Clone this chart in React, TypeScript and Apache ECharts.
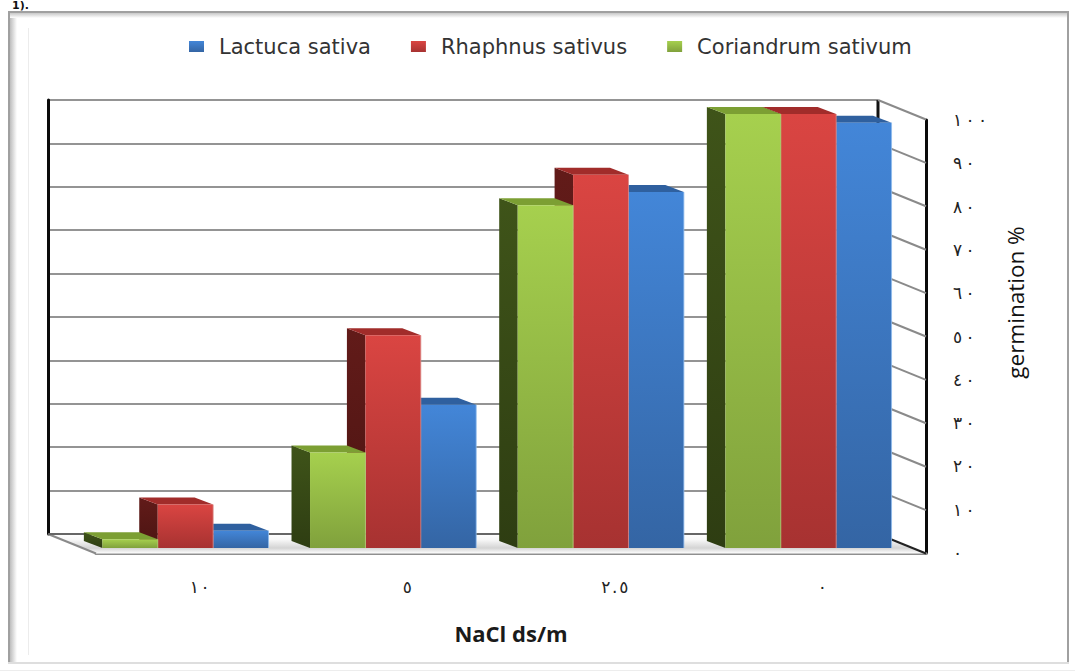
import React, { useEffect, useRef } from "react";
import * as echarts from "echarts";

const categories = ["١٠", "٥", "٢.٥", "٠"];
const lactuca = [4, 33, 82, 98];
const rhaphnus = [10, 49, 86, 100];
const coriandrum = [2, 22, 79, 100];
const yTicks = [0, 10, 20, 30, 40, 50, 60, 70, 80, 90, 100];
const yTickLabels = ["٠", "١٠", "٢٠", "٣٠", "٤٠", "٥٠", "٦٠", "٧٠", "٨٠", "٩٠", "١٠٠"];
const names = ["Lactuca sativa", "Rhaphnus sativus", "Coriandrum sativum"];

const BAR_FRAC = 55.4 / 207.7;
const DX = 18.5;
const DY = 7;
const vgrad = (a: string, b: string) =>
  new echarts.graphic.LinearGradient(0, 0, 0, 1, [
    { offset: 0, color: a },
    { offset: 1, color: b },
  ]);

const looks = [
  { front: ["#4386d8", "#3465a4"], side: ["#234a7a", "#1c3c64"], top: "#2f609f", edge: "#8fbbec", slot: 1 },
  { front: ["#da4542", "#a73231"], side: ["#621b19", "#4b1412"], top: "#a12c2a", edge: "#d98a88", slot: 0 },
  { front: ["#a6d04e", "#80a13c"], side: ["#3f5419", "#2e3d12"], top: "#7c9f33", edge: "#b5d47a", slot: -1 },
];

function barRenderer(look: (typeof looks)[number]) {
  return (_params: any, api: any) => {
    const band = api.size([1, 0])[0];
    const w = band * BAR_FRAC;
    const base = api.coord([api.value(0), 0]);
    const head = api.coord([api.value(0), api.value(1)]);
    const x0 = base[0] + (look.slot - 0.5) * w;
    const x1 = x0 + w;
    const y = head[1];
    const b = base[1];
    return {
      type: "group",
      children: [
        {
          type: "polygon",
          shape: { points: [[x0, y], [x0 - DX, y - DY], [x0 - DX, b - DY], [x0, b]] },
          style: { fill: vgrad(look.side[0], look.side[1]) },
        },
        {
          type: "polygon",
          shape: { points: [[x0, y], [x1, y], [x1 - DX, y - DY], [x0 - DX, y - DY]] },
          style: { fill: look.top },
        },
        {
          type: "rect",
          shape: { x: x0, y, width: w, height: b - y },
          style: { fill: vgrad(look.front[0], look.front[1]) },
        },
        {
          type: "line",
          shape: { x1, y1: y, x2: x1, y2: b },
          style: { stroke: look.edge, lineWidth: 1, opacity: 0.8 },
        },
      ],
    };
  };
}

function wallRenderer(params: any, api: any) {
  const cs = params.coordSys;
  const right = cs.x + cs.width;
  const v = api.value(1);
  const y = api.coord([0, v])[1];
  const OX = 48;
  const OY = 19.5;
  const children: any[] = [];
  if (v === 0) {
    children.push({
      type: "polygon",
      shape: { points: [[cs.x, y], [right, y], [right + OX, y + OY], [cs.x + OX, y + OY]] },
      style: {
        fill: new echarts.graphic.LinearGradient(0, 0, 0, 1, [
          { offset: 0, color: "#ffffff" },
          { offset: 0.3, color: "#f7f7f7" },
          { offset: 0.72, color: "#d4d4d4" },
          { offset: 1, color: "#ffffff" },
        ]),
      },
    });
    children.push({
      type: "line",
      shape: { x1: cs.x, y1: y, x2: cs.x + OX, y2: y + OY },
      style: { stroke: "#8a8a8a", lineWidth: 2 },
    });
    children.push({
      type: "line",
      shape: { x1: cs.x, y1: y, x2: right, y2: y },
      style: { stroke: "#666666", lineWidth: 2 },
    });
    children.push({
      type: "line",
      shape: { x1: right, y1: cs.y, x2: right, y2: y },
      style: { stroke: "#111111", lineWidth: 3 },
    });
  }
  children.push({
    type: "line",
    shape: { x1: right, y1: y, x2: right + OX, y2: y + OY },
    style: { stroke: v === 0 ? "#222222" : "#8a8a8a", lineWidth: 2 },
  });
  return { type: "group", children };
}

export default function App() {
  const ref = useRef<HTMLDivElement>(null);
  useEffect(() => {
    const chart = echarts.init(ref.current!, undefined, { renderer: "svg" });
    const dataOf = (arr: number[]) => arr.map((v, i) => [i, v]);
    const spaced = (s: string, gap: string) => s.split("").join("\u200E" + gap + "\u200E");
    const frame = [
      {
        type: "rect",
        shape: { x: 9, y: 12, width: 1059, height: 651 },
        style: { fill: "#ffffff", stroke: "#a0a0a0", lineWidth: 2 },
        z: -10,
      },
      {
        type: "line",
        shape: { x1: 8, y1: 663, x2: 1069, y2: 663 },
        style: { stroke: "#dedede", lineWidth: 2 },
        z: -9,
      },
      {
        type: "rect",
        shape: { x: 10, y: 13, width: 7, height: 649 },
        style: {
          fill: new echarts.graphic.LinearGradient(0, 0, 1, 0, [
            { offset: 0, color: "#bdbdbd" },
            { offset: 1, color: "#ffffff" },
          ]),
        },
        z: -9,
      },
      {
        type: "rect",
        shape: { x: 10, y: 13, width: 1057, height: 5 },
        style: {
          fill: new echarts.graphic.LinearGradient(0, 0, 0, 1, [
            { offset: 0, color: "#c8c8c8" },
            { offset: 1, color: "#ffffff" },
          ]),
        },
        z: -9,
      },
      {
        type: "line",
        shape: { x1: 28.5, y1: 28, x2: 28.5, y2: 655 },
        style: { stroke: "#ececec", lineWidth: 1 },
        z: -8,
      },
      {
        type: "line",
        shape: { x1: 0, y1: 670.5, x2: 1075, y2: 670.5 },
        style: { stroke: "#ededed", lineWidth: 1 },
        z: -8,
      },
      {
        type: "text",
        x: 12,
        y: 0,
        style: { text: "1).", fill: "#111111", font: "bold 11px 'DejaVu Sans'" },
      },
    ];
    chart.setOption({
      animation: false,
      backgroundColor: "#ffffff",
      graphic: frame,
      legend: {
        data: names,
        left: 184,
        top: 31,
        itemWidth: 15,
        itemHeight: 11,
        itemGap: 40,
        icon: "rect",
        textStyle: {
          fontFamily: "DejaVu Sans",
          fontSize: 21,
          color: "#333333",
          padding: [0, 0, 0, 10],
        },
      },
      grid: [
        { left: 81.6, width: 830.7, top: 114, height: 434 },
        { left: 96, width: 830, top: 120, height: 433 },
        { left: 48, width: 830, top: 100, height: 434 },
      ],
      xAxis: [
        { gridIndex: 0, type: "category", data: categories, show: false },
        {
          gridIndex: 1,
          type: "category",
          data: categories,
          axisLine: { lineStyle: { color: "#8f8f8f", width: 3 } },
          axisTick: { show: false },
          axisLabel: {
            margin: 25,
            fontFamily: "DejaVu Sans",
            fontSize: 17,
            color: "#222222",
            formatter: (v: string) => spaced(v, "\u200A"),
          },
          name: "NaCl ds/m",
          nameLocation: "middle",
          nameGap: 69,
          nameTextStyle: { fontFamily: "Open Sans", fontWeight: "bold", fontSize: 22, color: "#1a1a1a" },
        },
        { gridIndex: 2, type: "category", data: categories, show: false },
      ],
      yAxis: [
        { gridIndex: 0, type: "value", min: 0, max: 100, interval: 10, show: false },
        {
          gridIndex: 1,
          type: "value",
          min: 0,
          max: 100,
          interval: 10,
          position: "right",
          axisLine: { show: true, lineStyle: { color: "#0a0a0a", width: 3 } },
          axisTick: { show: false },
          splitLine: { show: false },
          axisLabel: {
            margin: 27,
            align: "left",
            fontFamily: "DejaVu Sans",
            fontSize: 17,
            color: "#222222",
            formatter: (v: number) => spaced(yTickLabels[yTicks.indexOf(v)], "\u2009"),
          },
          name: "germination %",
          nameLocation: "middle",
          nameRotate: 90,
          nameGap: 78,
          nameTextStyle: {
            fontFamily: "Open Sans",
            fontWeight: "normal",
            fontSize: 22.5,
            color: "#111111",
            padding: [0, 0, 0, 68],
          },
        },
        {
          gridIndex: 2,
          type: "value",
          min: 0,
          max: 100,
          interval: 10,
          axisLine: { show: true, lineStyle: { color: "#0a0a0a", width: 3 } },
          axisTick: { show: false },
          axisLabel: { show: false },
          splitLine: { show: true, lineStyle: { color: "#949494", width: 2 } },
        },
      ],
      series: [
        {
          type: "custom",
          name: "walls",
          xAxisIndex: 2,
          yAxisIndex: 2,
          z: 1,
          renderItem: wallRenderer,
          encode: { x: 0, y: 1 },
          data: yTicks.map((t) => [0, t]),
          silent: true,
        },
        ...[lactuca, rhaphnus, coriandrum].map((arr, i) => ({
          type: "custom",
          name: names[i],
          xAxisIndex: 0,
          yAxisIndex: 0,
          z: 3 + i,
          itemStyle: { color: vgrad(looks[i].front[0], looks[i].front[1]) },
          renderItem: barRenderer(looks[i]),
          encode: { x: 0, y: 1 },
          data: dataOf(arr),
        })),
      ],
    });
    return () => chart.dispose();
  }, []);
  return <div ref={ref} style={{ position: "absolute", left: 0, top: 0, width: 1075, height: 672 }} />;
}
